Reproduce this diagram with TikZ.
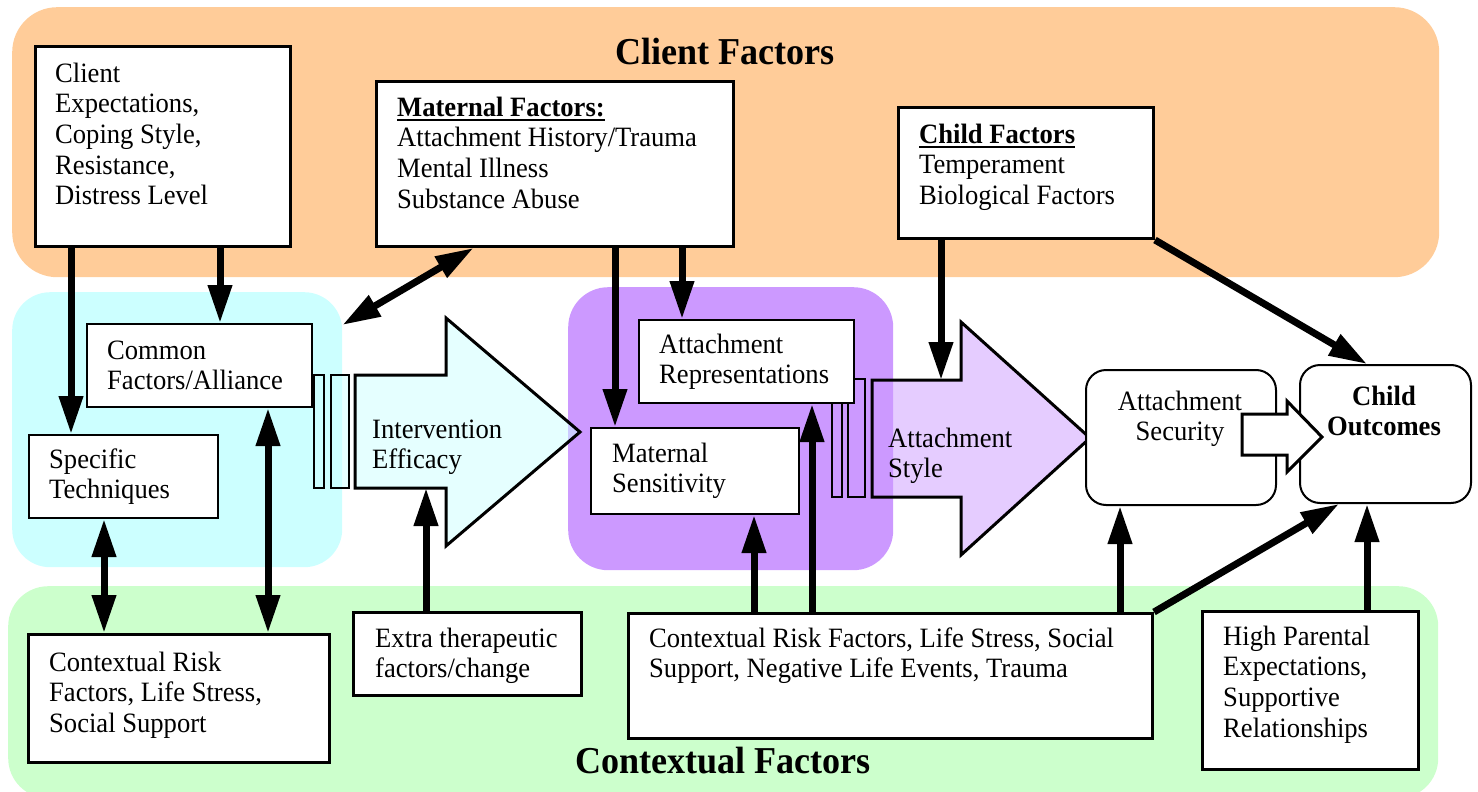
\documentclass[tikz,border=0pt]{standalone}
\usepackage{fontspec}
\setmainfont[FakeStretch=0.95]{Liberation Serif}
\usetikzlibrary{arrows.meta}
\definecolor{clientbg}{HTML}{FFCC99}
\definecolor{therapybg}{HTML}{CCFFFF}
\definecolor{dyadbg}{HTML}{CC99FF}
\definecolor{contextbg}{HTML}{CCFFCC}
% stacked lines, aligned on the baseline of the first line
\newcommand\lines[1]{\begin{tabular}[t]{@{}l@{}}#1\end{tabular}}
\newcommand\clines[1]{\begin{tabular}[t]{@{}c@{}}#1\end{tabular}}
% bold heading with a heavy underline
\newcommand\headline[1]{\setbox0\hbox{\bfseries #1}\rlap{\rule[-5pt]{\wd0}{2pt}}\box0}
\begin{document}
\begin{tikzpicture}[x=1pt,y=-1pt,
  zone/.style={fill=#1, draw=none, rounded corners=40pt, inner sep=0pt, anchor=north west},
  heavybox/.style={draw, line width=3pt, fill=white, inner sep=0pt, anchor=north west},
  lightbox/.style={draw, line width=2pt, fill=white, inner sep=0pt, anchor=north west},
  roundbox/.style={lightbox, rounded corners=20pt},
  txt/.style={inner sep=0pt, anchor=base west, font=\fontsize{28}{30.7}\selectfont},
  ctxt/.style={txt, anchor=base},
  title/.style={inner sep=0pt, anchor=base, font=\fontsize{38}{40}\selectfont\bfseries},
  link/.style={line width=7pt, -{Triangle[length=38pt,width=23pt]}},
  twoway/.style={line width=7pt, {Triangle[length=38pt,width=23pt]}-{Triangle[length=38pt,width=23pt]}},
  bigarrow/.style={draw, line width=3pt, line join=miter, fill=#1, fill opacity=0.5},
  bar/.style={draw, line width=2pt, fill=#1, fill opacity=0.5},
]
\useasboundingbox (0,0) rectangle (1478,792);

% background zones
\node[zone=clientbg, minimum width=1427pt, minimum height=270pt, rounded corners=45pt] (clientZone) at (12,7) {};
\node[zone=therapybg, minimum width=330pt, minimum height=275pt, rounded corners=38pt] (therapyZone) at (12,292) {};
\node[zone=dyadbg, minimum width=325pt, minimum height=283pt] (dyadZone) at (568,287) {};
\node[zone=contextbg, minimum width=1430pt, minimum height=212pt] (contextZone) at (8,586) {};

\node[title] (clientTitle) at (725,65) {Client Factors};
\node[title] (contextTitle) at (723,773) {Contextual Factors};

% column positions of the vertical connectors
\coordinate (k1) at (71,0);
\coordinate (k2) at (220,0);
\coordinate (k3) at (104,0);
\coordinate (k4) at (268,0);
\coordinate (k5) at (426,0);
\coordinate (k6) at (615,0);
\coordinate (k7) at (682,0);
\coordinate (k8) at (941,0);
\coordinate (k9) at (754,0);
\coordinate (k10) at (812,0);
\coordinate (k11) at (1120,0);
\coordinate (k12) at (1367,0);

% intervention efficacy block arrow
\path[bar=therapybg] (314,375) rectangle (324,488);
\path[bar=therapybg] (331,375) rectangle (349,488);
\path[bigarrow=therapybg] (355,375) -- (446,375) -- (446,318) -- (580,432) -- (446,546) -- (446,488) -- (355,488) -- cycle;
\coordinate (efficacyBase) at (426,488);
\node[txt] (efficacy) at (372,438) {\lines{Intervention\\Efficacy}};

% attachment style block arrow
\path[bar=dyadbg] (832,379) rectangle (842,497);
\path[bar=dyadbg] (848,379) rectangle (865,497);
\path[bigarrow=dyadbg] (872,380) -- (961,380) -- (961,322) -- (1090,438) -- (961,555) -- (961,497) -- (872,497) -- cycle;
\coordinate (styleTop) at (941,380);
\node[txt] (style) at (888,447) {\lines{Attachment\\Style}};

% client factors
\node[heavybox, minimum width=255pt, minimum height=200pt] (client) at (34,45) {};
\node[txt] (clientText) at (55,82) {\lines{Client\\Expectations,\\Coping Style,\\Resistance,\\Distress Level}};
\node[heavybox, minimum width=357pt, minimum height=165pt] (maternal) at (375,80) {};
\node[txt] (maternalText) at (397,116) {\lines{\headline{Maternal Factors:}\\Attachment History/Trauma\\Mental Illness\\Substance Abuse}};
\node[heavybox, minimum width=255pt, minimum height=131pt] (child) at (897,106) {};
\node[txt] (childText) at (919,143) {\lines{\headline{Child Factors}\\Temperament\\Biological Factors}};

% intervention
\node[lightbox, minimum width=225pt, minimum height=83pt] (common) at (86,323) {};
\node[txt] (commonText) at (107,359) {\lines{Common\\Factors/Alliance}};
\node[lightbox, minimum width=189pt, minimum height=83pt] (spec) at (28,434) {};
\node[txt] (specText) at (49,468) {\lines{Specific\\Techniques}};

% mother-child dyad
\node[lightbox, minimum width=215pt, minimum height=83pt] (rep) at (638,319) {};
\node[txt] (repText) at (659,353) {\lines{Attachment\\Representations}};
\node[lightbox, minimum width=208pt, minimum height=86pt] (sens) at (590,427) {};
\node[txt] (sensText) at (612,462) {\lines{Maternal\\Sensitivity}};

% outcomes
\node[roundbox, minimum width=190pt, minimum height=135pt] (security) at (1085,369) {};
\node[ctxt] (securityText) at (1180,410) {\clines{Attachment\\Security}};
\node[roundbox, minimum width=171pt, minimum height=138pt] (outcomes) at (1299,364) {};
\node[ctxt] (outcomesText) at (1384,405) {\clines{\bfseries Child\\\bfseries Outcomes}};

% contextual factors
\node[heavybox, minimum width=301pt, minimum height=128pt] (riskLeft) at (27,633) {};
\node[txt] (riskLeftText) at (49,671) {\lines{Contextual Risk\\Factors, Life Stress,\\Social Support}};
\node[heavybox, minimum width=228pt, minimum height=83pt] (extra) at (352,611) {};
\node[txt] (extraText) at (375,647) {\lines{Extra therapeutic\\factors/change}};
\node[heavybox, minimum width=524pt, minimum height=125pt] (riskRight) at (627,612) {};
\node[txt] (riskRightText) at (649,647) {\lines{Contextual Risk Factors, Life Stress, Social\\Support, Negative Life Events, Trauma}};
\node[heavybox, minimum width=216pt, minimum height=158pt] (parental) at (1201,610) {};
\node[txt] (parentalText) at (1223,645) {\lines{High Parental\\Expectations,\\Supportive\\Relationships}};

% connectors
\draw[link] (client.south -| k1) -- (spec.north -| k1);
\draw[link] (client.south -| k2) -- (common.north -| k2);
\draw[twoway] ([xshift=-81.5pt]maternal.south) -- ([yshift=-33pt]therapyZone.north east);
\draw[link] (maternal.south -| k6) -- (sens.north -| k6);
\draw[link] (maternal.south -| k7) -- (rep.north -| k7);
\draw[link] (child.south -| k8) -- (styleTop);
\draw[link] (child.south east) -- (outcomes.north -| k12);
\draw[twoway] (spec.south -| k3) -- (riskLeft.north -| k3);
\draw[twoway] (common.south -| k4) -- (riskLeft.north -| k4);
\draw[link] (extra.north -| k5) -- (efficacyBase);
\draw[link] (riskRight.north -| k9) -- (sens.south -| k9);
\draw[link] (riskRight.north -| k10) -- (rep.south -| k10);
\draw[link] (riskRight.north -| k11) -- (security.south -| k11);
\draw[link] (riskRight.north east) -- ([xshift=-46.5pt]outcomes.south);
\draw[link] (parental.north -| k12) -- (outcomes.south -| k12);

% security leads to outcomes
\path[draw, line width=3pt, line join=miter, fill=white] (1242,414) -- (1287,414) -- (1287,401) -- (1322,437) -- (1287,472) -- (1287,455) -- (1242,455) -- cycle;
\end{tikzpicture}
\end{document}
